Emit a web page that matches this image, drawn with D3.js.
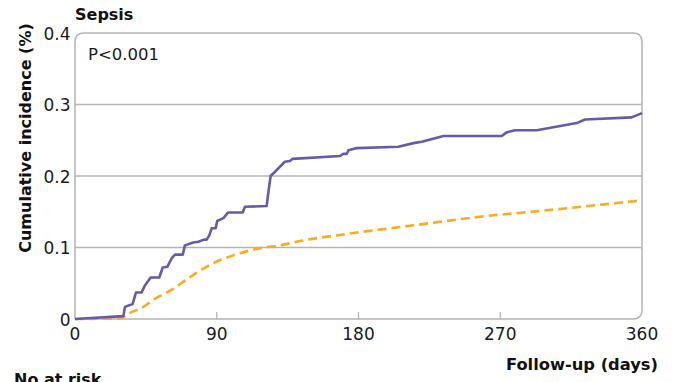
<!DOCTYPE html>
<html>
<head>
<meta charset="utf-8">
<script src="https://cdn.jsdelivr.net/npm/d3@7"></script>
<style>
  html, body { margin: 0; padding: 0; background: #fff; }
  svg { display: block; font-family: "DejaVu Sans", "Noto Sans", sans-serif; }
</style>
</head>
<body>
<svg id="chart" width="675" height="382"></svg>
<script>
// Cumulative incidence of sepsis (%) by follow-up day
const exposedDays = [0, 30.7, 31.7, 36.6, 38.7, 42.3, 44.4, 48, 53.5, 55.7, 58.6, 61.4, 63.5, 68.4, 69.8, 75.1, 78.3, 81.9, 83.6, 85.3, 86.8, 89.3, 90.3, 94.2, 97.3, 106.5, 107.9, 121.7, 122.7, 124.2, 127, 133.3, 136.5, 138.2, 168.3, 170.4, 172.6, 173.6, 178.9, 205.3, 214.9, 220.2, 234, 271, 274, 279.4, 293.2, 318.6, 323.8, 353.4, 360];
const exposedRisk = [0, 0.004, 0.017, 0.021, 0.037, 0.037, 0.047, 0.058, 0.058, 0.072, 0.073, 0.085, 0.090, 0.090, 0.103, 0.107, 0.108, 0.111, 0.111, 0.117, 0.127, 0.127, 0.137, 0.141, 0.149, 0.149, 0.157, 0.158, 0.176, 0.200, 0.206, 0.220, 0.221, 0.224, 0.228, 0.231, 0.231, 0.236, 0.239, 0.241, 0.246, 0.248, 0.256, 0.256, 0.261, 0.264, 0.264, 0.274, 0.279, 0.282, 0.288];

const controlDays = [0, 29.6, 32.8, 43.4, 50.5, 62.4, 72, 87.8, 100.5, 117.5, 130.2, 142.9, 172.6, 214.9, 257.1, 299.5, 360];
const controlRisk = [0, 0.001, 0.006, 0.017, 0.028, 0.042, 0.057, 0.078, 0.089, 0.099, 0.103, 0.109, 0.119, 0.131, 0.143, 0.152, 0.166];

const xTicks = [0, 90, 180, 270, 360];
const yTicks = [0, 0.1, 0.2, 0.3, 0.4];
const yTickLabels = ["0", "0.1", "0.2", "0.3", "0.4"];

const svg = d3.select("#chart");
const plotLeft = 75, plotRight = 642, plotTop = 33, plotBottom = 319;

const x = d3.scaleLinear().domain([0, 360]).range([plotLeft, plotRight]);
const y = d3.scaleLinear().domain([0, 0.4]).range([plotBottom, plotTop]);

const frameColor = "#b4b4b4";
const textColor = "#1a1a1a";

// horizontal grid lines
svg.append("g").selectAll("line")
  .data(yTicks.filter(t => t > 0 && t < 0.4))
  .join("line")
  .attr("x1", plotLeft).attr("x2", plotRight)
  .attr("y1", d => y(d)).attr("y2", d => y(d))
  .attr("stroke", frameColor).attr("stroke-width", 1.3);

// plot frame with rounded top corners and bottom-right corner
const r = 9;
const framePath = `M${plotLeft},${plotBottom} L${plotLeft},${plotTop + r} Q${plotLeft},${plotTop} ${plotLeft + r},${plotTop}
  L${plotRight - r},${plotTop} Q${plotRight},${plotTop} ${plotRight},${plotTop + r}
  L${plotRight},${plotBottom - r} Q${plotRight},${plotBottom} ${plotRight - r},${plotBottom} L${plotLeft},${plotBottom}`;
svg.append("path").attr("d", framePath)
  .attr("fill", "none").attr("stroke", frameColor).attr("stroke-width", 1.5);

// inner ticks on the x axis
svg.append("g").selectAll("line")
  .data(xTicks.filter(t => t > 0 && t < 360))
  .join("line")
  .attr("x1", d => x(d)).attr("x2", d => x(d))
  .attr("y1", plotBottom).attr("y2", plotBottom - 7)
  .attr("stroke", frameColor).attr("stroke-width", 1.3);

// tick labels
svg.append("g").selectAll("text")
  .data(xTicks)
  .join("text")
  .attr("x", d => x(d)).attr("y", plotBottom + 21)
  .attr("text-anchor", "middle")
  .attr("font-size", 17).attr("fill", textColor)
  .text(d => d);

svg.append("g").selectAll("text")
  .data(yTicks)
  .join("text")
  .attr("x", plotLeft - 4.5).attr("y", d => y(d) + 6.5)
  .attr("text-anchor", "end")
  .attr("font-size", 17).attr("fill", textColor)
  .text((d, i) => yTickLabels[i]);

// curves
const line = d3.line().x(d => x(d[0])).y(d => y(d[1]));
const controlLine = d3.line().x(d => x(d[0])).y(d => y(d[1])).curve(d3.curveMonotoneX);

svg.append("path")
  .datum(d3.zip(controlDays, controlRisk))
  .attr("d", controlLine)
  .attr("fill", "none").attr("stroke", "#fbab1e")
  .attr("stroke-width", 2.6).attr("stroke-dasharray", "9,5");

svg.append("path")
  .datum(d3.zip(exposedDays, exposedRisk))
  .attr("d", line)
  .attr("fill", "none").attr("stroke", "#6a58aa")
  .attr("stroke-width", 2.6).attr("stroke-linejoin", "round");

// annotations
svg.append("text").attr("x", 75).attr("y", 20)
  .attr("font-size", 16).attr("font-weight", "bold").attr("fill", "#111")
  .text("Sepsis");

svg.append("text").attr("x", 88).attr("y", 60)
  .attr("font-size", 16.5).attr("fill", textColor)
  .text("P<0.001");

svg.append("text")
  .attr("transform", `translate(31,${(plotTop + plotBottom) / 2 - 38}) rotate(-90)`)
  .attr("text-anchor", "middle")
  .attr("font-size", 16).attr("font-weight", "bold").attr("fill", "#111")
  .text("Cumulative incidence (%)");

svg.append("text").attr("x", 658).attr("y", 370)
  .attr("text-anchor", "end")
  .attr("font-size", 16.3).attr("font-weight", "bold").attr("fill", "#111")
  .text("Follow-up (days)");

svg.append("text").attr("x", 14).attr("y", 385)
  .attr("font-size", 16).attr("font-weight", "bold").attr("fill", "#111")
  .text("No at risk");
</script>
</body>
</html>
